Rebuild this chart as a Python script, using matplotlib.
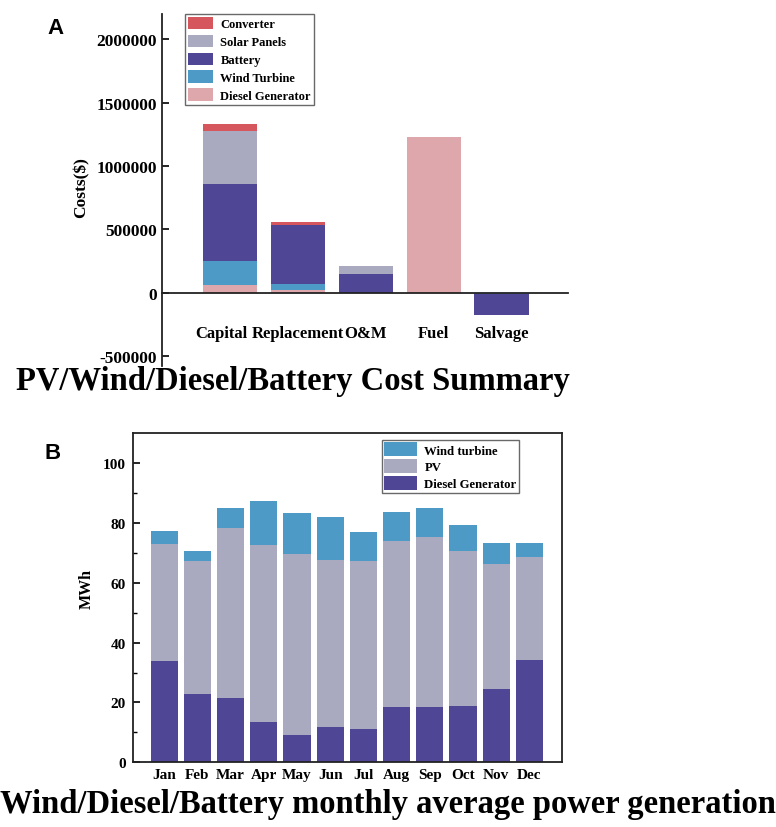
import matplotlib
matplotlib.use("Agg")
import matplotlib.pyplot as plt
import matplotlib.transforms as mtransforms
import numpy as np

plt.rcParams["font.family"] = ["Liberation Serif", "DejaVu Serif"]
plt.rcParams["font.weight"] = "bold"

# ---- cost summary (USD) ----
cost_categories = ["Capital", "Replacement", "O&M", "Fuel", "Salvage"]
diesel_gen_cost = [65000, 24000, 0, 1227000, 0]
wind_turbine_cost = [183000, 50000, 0, 0, -8000]
battery_cost = [610000, 461000, 148000, 0, -168000]
solar_panels_cost = [421000, 0, 65000, 0, 0]
converter_cost = [53000, 23000, 0, 0, 0]

# ---- monthly generation (MWh) ----
months = ["Jan", "Feb", "Mar", "Apr", "May", "Jun",
          "Jul", "Aug", "Sep", "Oct", "Nov", "Dec"]
diesel_mwh = [33.7, 23.0, 21.6, 13.4, 9.2, 11.9, 11.1, 18.4, 18.4, 18.8, 24.6, 34.1]
pv_mwh = [39.3, 44.1, 56.5, 59.3, 60.4, 55.8, 56.1, 55.5, 56.7, 51.7, 41.5, 34.4]
wind_mwh = [4.1, 3.4, 6.8, 14.4, 13.5, 14.1, 9.6, 9.7, 9.7, 8.9, 7.3, 4.9]

C_CONV = "#d5575d"
C_SOLAR = "#a9aac0"
C_BATT = "#4f4796"
C_WIND = "#4e9ac6"
C_DIESEL = "#dea7ab"

fig = plt.figure(figsize=(7.76, 8.28), dpi=100)

# ================= Panel A =================
axA = fig.add_axes([0.209, 0.557, 0.523, 0.425])
x = np.arange(len(cost_categories))
pos_base = np.zeros(len(x))
neg_base = np.zeros(len(x))
series_a = [
    ("Diesel Generator", diesel_gen_cost, C_DIESEL),
    ("Wind Turbine", wind_turbine_cost, C_WIND),
    ("Battery", battery_cost, C_BATT),
    ("Solar Panels", solar_panels_cost, C_SOLAR),
    ("Converter", converter_cost, C_CONV),
]
handles_a = {}
for name, vals, col in series_a:
    vals = np.asarray(vals, dtype=float)
    # positive parts stack upward, negative parts stack downward from zero
    base = np.where(vals >= 0, pos_base, neg_base)
    h = axA.bar(x, vals, 0.8, bottom=base, color=col, linewidth=0, label=name)
    handles_a[name] = h
    pos_base += np.clip(vals, 0, None)
    neg_base += np.clip(vals, None, 0)

axA.set_xlim(-1, 4.98)
axA.set_ylim(-575000, 2200000)
axA.set_yticks([-500000, 0, 500000, 1000000, 1500000, 2000000])
axA.set_yticklabels(["-500000", "0", "500000", "1000000", "1500000", "2000000"])
axA.spines["top"].set_visible(False)
axA.spines["right"].set_visible(False)
axA.spines["bottom"].set_position(("data", 0))
for s in ("left", "bottom"):
    axA.spines[s].set_linewidth(1.3)
    axA.spines[s].set_color("#222222")
axA.tick_params(axis="y", direction="in", length=5, width=1.2, labelsize=12.5, pad=4)
axA.set_xticks(x)
axA.set_xticklabels(cost_categories, fontsize=12, fontweight="bold")
axA.tick_params(axis="x", length=0, pad=23)
# nudge "Capital" left so it clears "Replacement"
cap_lbl = axA.get_xticklabels()[0]
cap_lbl.set_transform(cap_lbl.get_transform() +
                      mtransforms.ScaledTranslation(-9 / 100, 0, fig.dpi_scale_trans))
axA.set_ylabel("Costs(\\$)", fontsize=12.5, fontweight="bold")
axA.yaxis.set_label_coords(-0.18, 0.51)

order_a = ["Converter", "Solar Panels", "Battery", "Wind Turbine", "Diesel Generator"]
legA = axA.legend([handles_a[n] for n in order_a], order_a,
                  loc="upper left", bbox_to_anchor=(0.057, 1.0), borderaxespad=0,
                  fontsize=9, frameon=True, fancybox=False, handlelength=2.0,
                  handleheight=1.15, labelspacing=0.35, handletextpad=0.55,
                  borderpad=0.25)
legA.get_frame().set_edgecolor("#444444")
legA.get_frame().set_linewidth(1.0)

fig.text(0.378, 0.539, "PV/Wind/Diesel/Battery Cost Summary",
         ha="center", va="center", fontsize=23.5, fontweight="bold")
fig.text(0.071, 0.966, "A", ha="center", va="center", fontsize=16,
         fontweight="bold", family=["Liberation Sans", "DejaVu Sans"])

# ================= Panel B =================
axB = fig.add_axes([0.171, 0.078, 0.553, 0.398])
xm = np.arange(len(months))
d = np.asarray(diesel_mwh)
p = np.asarray(pv_mwh)
w = np.asarray(wind_mwh)
hb_d = axB.bar(xm, d, 0.82, color=C_BATT, linewidth=0)
hb_p = axB.bar(xm, p, 0.82, bottom=d, color=C_SOLAR, linewidth=0)
hb_w = axB.bar(xm, w, 0.82, bottom=d + p, color=C_WIND, linewidth=0)

axB.set_xlim(-0.95, 11.98)
axB.set_ylim(0, 110)
axB.set_yticks([0, 20, 40, 60, 80, 100])
axB.set_yticks(np.arange(10, 110, 20), minor=True)
axB.set_xticks(xm)
axB.set_xticklabels(months, fontsize=11, fontweight="bold")
axB.tick_params(axis="x", length=0, pad=4)
axB.tick_params(axis="y", which="major", direction="in", length=5, width=1.2,
                labelsize=11, pad=5)
axB.tick_params(axis="y", which="minor", direction="in", length=3, width=1.0)
for s in axB.spines.values():
    s.set_linewidth(1.3)
    s.set_color("#222222")
axB.set_ylabel("MWh", fontsize=11.5, fontweight="bold")
axB.yaxis.set_label_coords(-0.088, 0.53)

legB = axB.legend([hb_w, hb_p, hb_d], ["Wind turbine", "PV", "Diesel Generator"],
                  loc="upper left", bbox_to_anchor=(0.58, 0.979), borderaxespad=0,
                  fontsize=9.2, frameon=True, fancybox=False, handlelength=2.6,
                  handleheight=1.3, labelspacing=0.2, handletextpad=0.55,
                  borderpad=0.2)
legB.get_frame().set_edgecolor("#444444")
legB.get_frame().set_linewidth(1.0)

fig.text(0.5, 0.028, "Wind/Diesel/Battery monthly average power generation",
         ha="center", va="center", fontsize=23.5, fontweight="bold")
fig.text(0.068, 0.452, "B", ha="center", va="center", fontsize=16,
         fontweight="bold", family=["Liberation Sans", "DejaVu Sans"])

fig.savefig("out.png", dpi=100)
